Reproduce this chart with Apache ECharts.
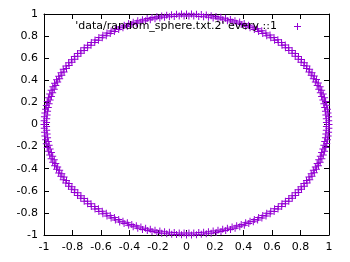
<!DOCTYPE html>
<html>
<head>
<meta charset="utf-8">
<script src="https://cdn.jsdelivr.net/npm/echarts@6/dist/echarts.min.js"></script>
<style>html,body{margin:0;padding:0;background:#fff}#c{width:350px;height:262px}</style>
</head>
<body>
<div id="c"></div>
<script>
var seriesName = "'data/random_sphere.txt.2' every ::1";
var tickValues = [-1, -0.8, -0.6, -0.4, -0.2, 0, 0.2, 0.4, 0.6, 0.8, 1];

var outerXs = [
 1.000,0.998,0.997,0.993,0.989,0.983,0.975,0.968,0.959,0.949,0.938,0.925,0.912,0.897,0.881,0.864,0.845,0.827,0.807,0.786,0.764,0.741,0.717,0.693,0.667,0.641,0.614,0.586,0.557,0.528,0.498,0.467,0.436,0.405,0.373,0.340,0.308,0.274,0.241,0.207,0.173,0.139,0.104,0.070,0.035,
 0.000,-0.035,-0.070,-0.105,-0.139,-0.174,-0.208,-0.242,-0.276,-0.309,-0.342,-0.374,-0.406,-0.437,-0.468,-0.499,-0.529,-0.558,-0.587,-0.615,-0.642,-0.668,-0.694,-0.718,-0.742,-0.765,-0.787,-0.807,-0.827,-0.846,-0.865,-0.881,-0.897,-0.912,-0.926,-0.938,-0.950,-0.960,-0.969,-0.977,-0.984,-0.989,-0.994,-0.997,-0.999,
 -1.000,-0.998,-0.996,-0.994,-0.989,-0.984,-0.977,-0.969,-0.960,-0.950,-0.939,-0.926,-0.912,-0.897,-0.882,-0.865,-0.847,-0.828,-0.808,-0.787,-0.765,-0.742,-0.718,-0.694,-0.668,-0.642,-0.615,-0.587,-0.558,-0.529,-0.499,-0.469,-0.438,-0.406,-0.374,-0.342,-0.309,-0.275,-0.242,-0.208,-0.174,-0.139,-0.104,-0.070,-0.035,
 0.000,0.035,0.070,0.104,0.139,0.173,0.208,0.242,0.275,0.309,0.341,0.374,0.406,0.437,0.469,0.499,0.529,0.558,0.587,0.615,0.642,0.668,0.694,0.718,0.742,0.765,0.787,0.807,0.827,0.846,0.865,0.881,0.897,0.912,0.926,0.938,0.950,0.960,0.969,0.977,0.984,0.989,0.994,0.997,0.999
];
var outerYs = [
 0.000,0.035,0.070,0.105,0.139,0.174,0.208,0.242,0.276,0.309,0.342,0.375,0.407,0.438,0.469,0.500,0.530,0.559,0.588,0.616,0.643,0.669,0.695,0.719,0.743,0.766,0.788,0.809,0.829,0.848,0.866,0.883,0.899,0.914,0.927,0.940,0.951,0.961,0.970,0.978,0.985,0.990,0.995,0.998,0.999,
 1.000,0.999,0.997,0.994,0.988,0.983,0.976,0.968,0.960,0.949,0.938,0.926,0.913,0.898,0.882,0.864,0.847,0.827,0.807,0.787,0.765,0.742,0.718,0.694,0.668,0.642,0.615,0.587,0.558,0.529,0.499,0.469,0.437,0.406,0.374,0.341,0.309,0.275,0.242,0.208,0.173,0.139,0.104,0.070,0.035,
 0.000,-0.035,-0.070,-0.104,-0.139,-0.174,-0.208,-0.242,-0.275,-0.309,-0.342,-0.374,-0.406,-0.438,-0.469,-0.499,-0.529,-0.558,-0.587,-0.615,-0.642,-0.668,-0.694,-0.718,-0.742,-0.765,-0.787,-0.808,-0.828,-0.847,-0.865,-0.882,-0.897,-0.912,-0.926,-0.939,-0.950,-0.960,-0.969,-0.977,-0.984,-0.989,-0.994,-0.996,-0.998,
 -1.000,-0.999,-0.997,-0.994,-0.989,-0.984,-0.977,-0.969,-0.960,-0.950,-0.938,-0.926,-0.912,-0.897,-0.881,-0.865,-0.846,-0.827,-0.807,-0.787,-0.765,-0.742,-0.718,-0.694,-0.668,-0.642,-0.615,-0.587,-0.558,-0.529,-0.499,-0.469,-0.437,-0.406,-0.374,-0.341,-0.309,-0.275,-0.242,-0.208,-0.173,-0.139,-0.104,-0.070,-0.035
];

var innerXs = [
 0.982,0.981,0.978,0.975,0.970,0.964,0.957,0.948,0.939,0.928,0.917,0.904,0.890,0.875,0.859,0.842,0.824,0.804,0.784,0.763,0.741,0.718,0.694,0.670,0.644,0.618,0.591,0.563,0.535,0.506,0.476,0.446,0.415,0.384,0.352,0.320,0.287,0.254,0.221,0.187,0.154,0.120,0.086,0.051,0.017,
 -0.017,-0.051,-0.086,-0.120,-0.154,-0.187,-0.221,-0.254,-0.287,-0.320,-0.352,-0.384,-0.415,-0.446,-0.476,-0.506,-0.535,-0.563,-0.591,-0.618,-0.644,-0.670,-0.694,-0.718,-0.741,-0.763,-0.784,-0.804,-0.824,-0.842,-0.859,-0.875,-0.890,-0.904,-0.917,-0.928,-0.939,-0.948,-0.957,-0.964,-0.970,-0.975,-0.978,-0.981,-0.982,
 -0.982,-0.981,-0.978,-0.975,-0.970,-0.964,-0.957,-0.948,-0.939,-0.928,-0.917,-0.904,-0.890,-0.875,-0.859,-0.842,-0.824,-0.804,-0.784,-0.763,-0.741,-0.718,-0.694,-0.670,-0.644,-0.618,-0.591,-0.563,-0.535,-0.506,-0.476,-0.446,-0.415,-0.384,-0.352,-0.320,-0.287,-0.254,-0.221,-0.187,-0.154,-0.120,-0.086,-0.051,-0.017,
 0.017,0.051,0.086,0.120,0.154,0.187,0.221,0.254,0.287,0.320,0.352,0.384,0.415,0.446,0.476,0.506,0.535,0.563,0.591,0.618,0.644,0.670,0.694,0.718,0.741,0.763,0.784,0.804,0.824,0.842,0.859,0.875,0.890,0.904,0.917,0.928,0.939,0.948,0.957,0.964,0.970,0.975,0.978,0.981,0.982
];
var innerYs = [
 0.017,0.051,0.086,0.120,0.154,0.187,0.221,0.254,0.287,0.320,0.352,0.384,0.415,0.446,0.476,0.506,0.535,0.563,0.591,0.618,0.644,0.670,0.694,0.718,0.741,0.763,0.784,0.804,0.824,0.842,0.859,0.875,0.890,0.904,0.917,0.928,0.939,0.948,0.957,0.964,0.970,0.975,0.978,0.981,0.982,
 0.982,0.981,0.978,0.975,0.970,0.964,0.957,0.948,0.939,0.928,0.917,0.904,0.890,0.875,0.859,0.842,0.824,0.804,0.784,0.763,0.741,0.718,0.694,0.670,0.644,0.618,0.591,0.563,0.535,0.506,0.476,0.446,0.415,0.384,0.352,0.320,0.287,0.254,0.221,0.187,0.154,0.120,0.086,0.051,0.017,
 -0.017,-0.051,-0.086,-0.120,-0.154,-0.187,-0.221,-0.254,-0.287,-0.320,-0.352,-0.384,-0.415,-0.446,-0.476,-0.506,-0.535,-0.563,-0.591,-0.618,-0.644,-0.670,-0.694,-0.718,-0.741,-0.763,-0.784,-0.804,-0.824,-0.842,-0.859,-0.875,-0.890,-0.904,-0.917,-0.928,-0.939,-0.948,-0.957,-0.964,-0.970,-0.975,-0.978,-0.981,-0.982,
 -0.982,-0.981,-0.978,-0.975,-0.970,-0.964,-0.957,-0.948,-0.939,-0.928,-0.917,-0.904,-0.890,-0.875,-0.859,-0.842,-0.824,-0.804,-0.784,-0.763,-0.741,-0.718,-0.694,-0.670,-0.644,-0.618,-0.591,-0.563,-0.535,-0.506,-0.476,-0.446,-0.415,-0.384,-0.352,-0.320,-0.287,-0.254,-0.221,-0.187,-0.154,-0.120,-0.086,-0.051,-0.017
];

var points = outerXs.map(function (x, i) { return [x, outerYs[i]]; })
  .concat(innerXs.map(function (x, i) { return [x, innerYs[i]]; }));
var plus = 'path://M0,3H7V4H0Z M3,0H4V7H3Z';
var color = '#9400D3';
var font = 'DejaVu Sans';

function axis(pos, showLabel, type) {
  return {
    type: 'value', position: pos, min: -1, max: 1, interval: 0.2,
    axisLine: { show: true, onZero: false, lineStyle: { color: '#000', width: 1 } },
    axisTick: { show: true, inside: true, length: 5, lineStyle: { color: '#000' } },
    axisLabel: {
      show: showLabel, color: '#000', fontFamily: font, fontSize: 11,
      margin: type === 'x' ? 7 : 6,
      formatter: function (v) {
        var t = tickValues.find(function (tv) { return Math.abs(tv - v) < 1e-6; });
        return t === undefined ? '' : String(t);
      }
    },
    splitLine: { show: false }
  };
}

var chart = echarts.init(document.getElementById('c'), null, { renderer: 'canvas' });
chart.setOption({
  animation: false,
  backgroundColor: '#fff',
  grid: { left: 44, top: 14, right: 21, bottom: 27, containLabel: false },
  xAxis: [axis('bottom', true, 'x'), axis('top', false, 'x')],
  yAxis: [axis('left', true, 'y'), axis('right', false, 'y')],
  legend: {
    right: 44, top: 16, align: 'right', orient: 'vertical',
    itemWidth: 7, itemHeight: 7,
    icon: plus,
    textStyle: { color: '#000', fontFamily: font, fontSize: 11, padding: [0, 12, 0, 0] },
    data: [seriesName]
  },
  series: [{
    name: seriesName, type: 'scatter', xAxisIndex: 0, yAxisIndex: 0,
    data: points, symbol: plus, symbolSize: 7, clip: false,
    itemStyle: { color: color, opacity: 1 }
  }]
});
</script>
</body>
</html>
